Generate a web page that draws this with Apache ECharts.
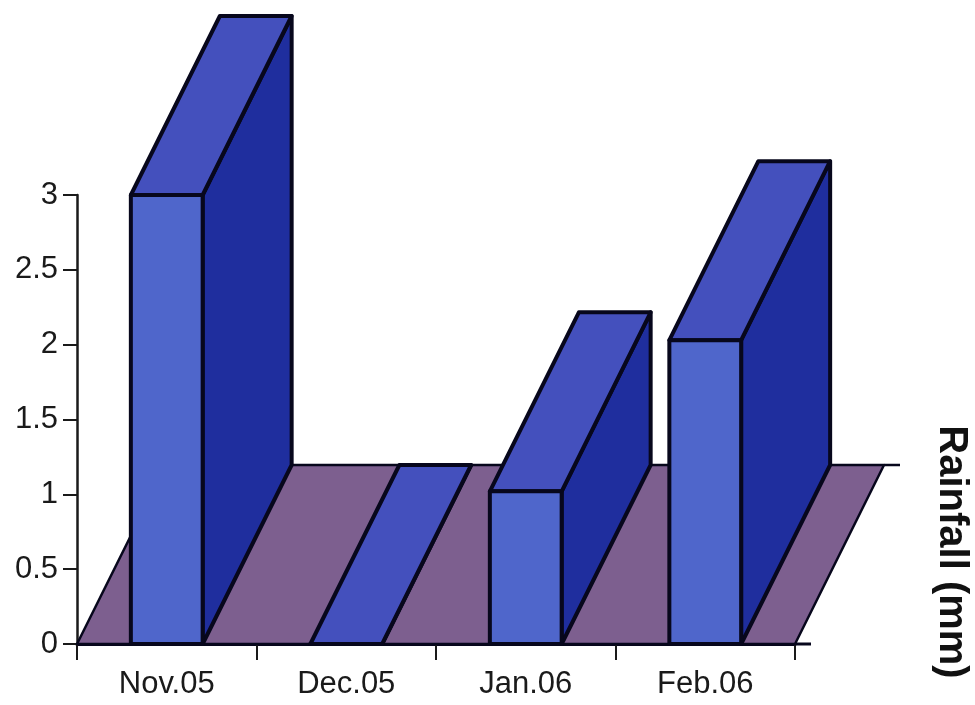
<!DOCTYPE html>
<html>
<head>
<meta charset="utf-8">
<style>html,body{margin:0;padding:0;background:#fff}#chart{width:975px;height:705px}</style>
<script src="https://cdn.jsdelivr.net/npm/echarts@6/dist/echarts.min.js"></script>
</head>
<body>
<div id="chart"></div>
<script>
// Monthly rainfall, millimetres
const months = ['Nov.05', 'Dec.05', 'Jan.06', 'Feb.06'];
const rainfall = [3, 0, 1.02, 2.03];

// Oblique projection used for the floor and for the depth of each column
const DEPTH_X = 89;
const DEPTH_Y = -179;
const BAR_RATIO = 0.4;
const FONT = '"Liberation Sans", Arial, sans-serif';
const INK = '#07071c';
const COLORS = { front: '#4f66cb', top: '#4450bd', side: '#1f2e9e', floor: '#7d5f8f' };

function face(points, fill, width) {
  return {
    type: 'polygon',
    shape: { points: points },
    style: { fill: fill, stroke: INK, lineWidth: width, lineJoin: 'round' }
  };
}

function segment(x1, y1, x2, y2, width) {
  return {
    type: 'line',
    shape: { x1: x1, y1: y1, x2: x2, y2: y2 },
    style: { stroke: INK, lineWidth: width, fill: null }
  };
}

// Floor plane behind the columns, with its back edge running past the plot
function renderFloor(params, api) {
  const box = params.coordSys;
  const left = box.x;
  const right = box.x + box.width;
  const base = box.y + box.height;
  return {
    type: 'group',
    children: [
      face([[left, base], [right, base], [right + DEPTH_X, base + DEPTH_Y], [left + DEPTH_X, base + DEPTH_Y]], COLORS.floor, 2.5),
      segment(right, base, right + 16, base, 3),
      segment(right + DEPTH_X, base + DEPTH_Y, right + DEPTH_X + 16, base + DEPTH_Y, 2.5)
    ]
  };
}

// One extruded column: front, top and right-hand side faces
function renderColumn(params, api) {
  const bottom = api.coord([api.value(0), 0]);
  const top = api.coord([api.value(0), api.value(1)]);
  const half = api.size([1, 0])[0] * BAR_RATIO / 2;
  const xl = bottom[0] - half;
  const xr = bottom[0] + half;
  const yb = bottom[1];
  const yt = top[1];
  const dx = DEPTH_X;
  const dy = DEPTH_Y;
  return {
    type: 'group',
    children: [
      face([[xr, yb], [xr + dx, yb + dy], [xr + dx, yt + dy], [xr, yt]], COLORS.side, 4),
      face([[xl, yt], [xr, yt], [xr + dx, yt + dy], [xl + dx, yt + dy]], COLORS.top, 4),
      face([[xl, yb], [xr, yb], [xr, yt], [xl, yt]], COLORS.front, 4)
    ]
  };
}

const chart = echarts.init(document.getElementById('chart'), null, { renderer: 'canvas' });
chart.setOption({
  animation: false,
  backgroundColor: '#ffffff',
  grid: { left: 77, top: 195, width: 718, height: 449, containLabel: false },
  xAxis: {
    type: 'category',
    data: months,
    boundaryGap: true,
    axisLine: { lineStyle: { color: INK, width: 3 } },
    axisTick: { show: true, alignWithLabel: false, length: 16, lineStyle: { color: '#1a1a1a', width: 2 } },
    axisLabel: { color: '#1a1a1a', fontFamily: FONT, fontSize: 31, margin: 25 }
  },
  yAxis: {
    type: 'value',
    min: 0,
    max: 3,
    interval: 0.5,
    splitLine: { show: false },
    axisLine: { show: true, lineStyle: { color: '#1a1a1a', width: 2.5 } },
    axisTick: { show: true, length: 14, lineStyle: { color: '#1a1a1a', width: 2 } },
    axisLabel: { color: '#1a1a1a', fontFamily: FONT, fontSize: 31, margin: 19, padding: [5, 0, 0, 0] }
  },
  graphic: [{
    type: 'text',
    x: 951,
    y: 552,
    rotation: -Math.PI / 2,
    style: {
      text: 'Rainfall (mm)',
      fill: '#111111',
      font: 'bold 40px ' + FONT,
      align: 'center',
      verticalAlign: 'middle'
    }
  }],
  series: [
    { type: 'custom', name: 'Floor', z: 1, silent: true, data: [[0]], renderItem: renderFloor, encode: { x: 0 } },
    {
      type: 'custom',
      name: 'Rainfall',
      z: 3,
      silent: true,
      data: rainfall.map(function (v, i) { return [i, v]; }),
      renderItem: renderColumn,
      encode: { x: 0, y: 1 }
    }
  ]
});
</script>
</body>
</html>
